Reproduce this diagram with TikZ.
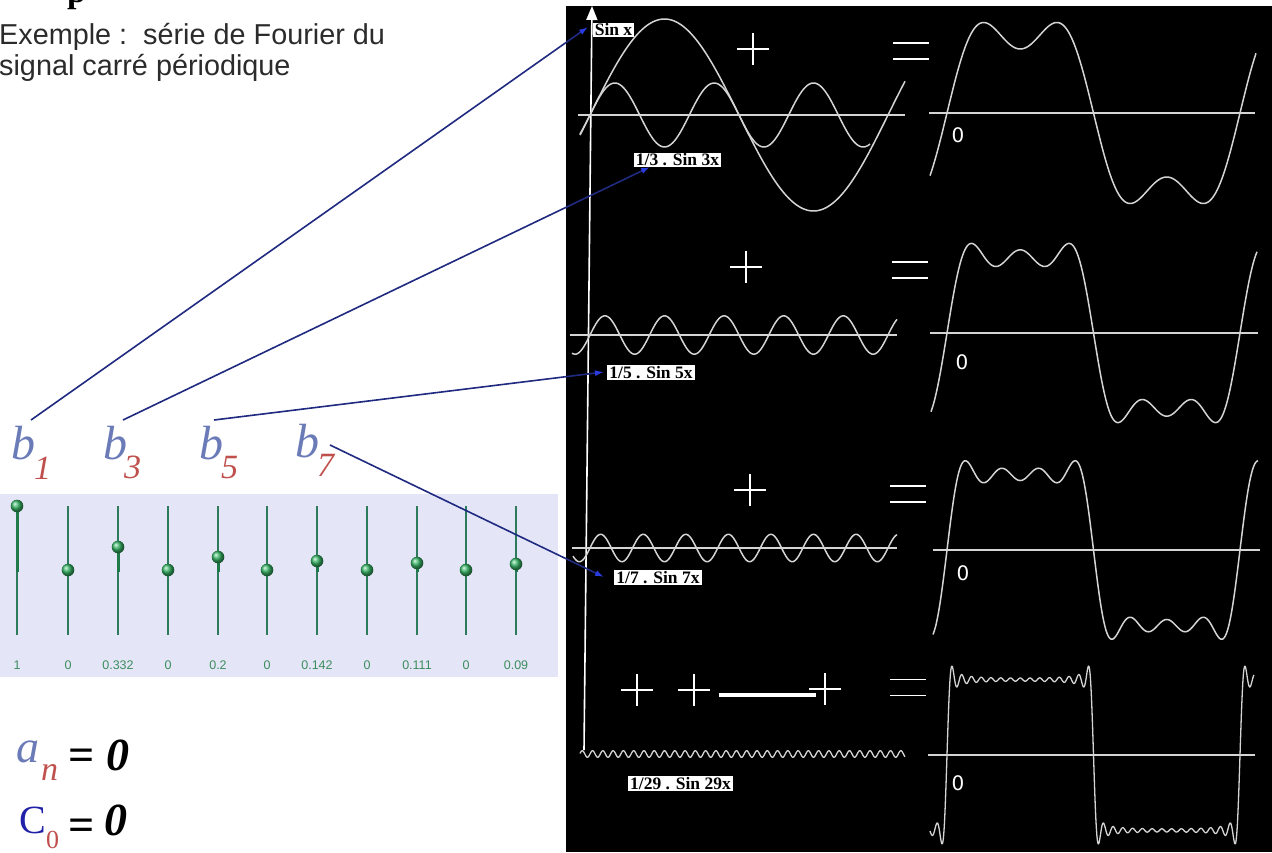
\documentclass[tikz,border=0pt]{standalone}
\usepackage{fontspec}
\setmainfont{Liberation Serif}
\setsansfont{Liberation Sans}
\newfontfamily\dejavu{DejaVu Sans}
\usetikzlibrary{arrows.meta,calc}
\definecolor{bblue}{HTML}{6A7BB8}
\definecolor{bred}{HTML}{C0504D}
\definecolor{cblue}{HTML}{2020A8}
\definecolor{navy}{HTML}{1F2A80}
\definecolor{tipblue}{HTML}{2A3CE0}
\definecolor{panel}{HTML}{E4E6F7}
\definecolor{sldr}{HTML}{2E7A5C}
\definecolor{sldrbar}{HTML}{1E7A48}
\definecolor{knob}{HTML}{36B565}
\definecolor{vallbl}{HTML}{3C8C5C}
\definecolor{wave}{HTML}{D4D4D4}
\definecolor{titlegray}{HTML}{2B2B2B}
\begin{document}
\begin{tikzpicture}[x=1pt,y=-1pt,
  wv/.style={draw=wave, line width=1.5pt, line join=round},
  zl/.style={draw=wave, line width=1.4pt},
  signline/.style={draw=white, line width=1.6pt},
  lbl/.style={fill=white, text=black, font=\bfseries\fontsize{17.5}{19}\selectfont, inner xsep=2pt, inner ysep=1pt},
  conn/.style={draw=navy, line width=1.6pt, -{Latex[length=9pt,width=6pt,color=tipblue]}},
  zerolbl/.style={font=\dejavu\fontsize{20}{22}\selectfont, text=white, inner sep=0pt},
  bletter/.style={anchor=base west, inner sep=0pt, font=\itshape\fontsize{48}{50}\selectfont, text=bblue},
  bsub/.style={anchor=base west, inner sep=0pt, font=\itshape\fontsize{34}{36}\selectfont, text=bred},
  vallabel/.style={font=\sffamily\fontsize{12.5}{13}\selectfont, text=vallbl, inner sep=0pt},
  plussign/.pic={\draw[signline] (-16,0)--(16,0) (0,-16)--(0,16);},
  eqsign/.pic={\draw[signline] (-18,-8)--(18,-8) (-18,8)--(18,8);},
  declare function={
    sa(\t)=sin(\t)+sin(3*\t)/3;
    sb(\t)=sa(\t)+sin(5*\t)/5;
    sc(\t)=sb(\t)+sin(7*\t)/7;
    sd(\t)=sc(\t)+sin(9*\t)/9+sin(11*\t)/11+sin(13*\t)/13+sin(15*\t)/15+sin(17*\t)/17+sin(19*\t)/19+sin(21*\t)/21+sin(23*\t)/23+sin(25*\t)/25+sin(27*\t)/27+sin(29*\t)/29;
    tl(\x)=(\x-590)/149*180;
    tr(\x)=(\x-947)/146.5*180;
  }]
\useasboundingbox (0,0) rectangle (1272,852);
\clip (0,0) rectangle (1272,852);
\fill[white] (0,0) rectangle (1272,852);

% ---------- left part ----------
\node[anchor=base west, inner sep=0pt, font=\bfseries\fontsize{34}{40}\selectfont] (ptop) at (67,2) {p};
\node[anchor=base west, inner sep=0pt, font=\sffamily\fontsize{28.8}{32}\selectfont, text=titlegray] (title1) at (-1,44) {Exemple :~~série de Fourier du};
\node[anchor=base west, inner sep=0pt, font=\sffamily\fontsize{28.8}{32}\selectfont, text=titlegray] (title2) at (-1,75) {signal carré périodique};

% slider panel
\fill[panel] (0,494) rectangle (558,677);
\foreach \sx/\val/\ky [count=\i] in {17/1/506, 68/0/570, 118/0.332/547, 168/0/570, 218/0.2/557, 267/0/570, 317/0.142/561, 367/0/570, 417/0.111/563, 466/0/570, 516/0.09/564}{
  \draw[sldr, line width=1.4pt] (\sx,506) -- (\sx,635);
  \ifdim \ky pt<569pt
    \draw[sldrbar, line width=3pt] (\sx,\ky) -- (\sx,572);
  \fi
  \shade[ball color=knob] (\sx,\ky) circle (6.3);
  \node[vallabel] (val\i) at (\sx,665) {\val};
}

% b coefficients
\node[bletter] (b1) at (11,459) {b};
\node[bsub] (s1) at (34,479) {1};
\node[bletter] (b3) at (103,459) {b};
\node[bsub] (s3) at (124,478) {3};
\node[bletter] (b5) at (199,459) {b};
\node[bsub] (s5) at (221,478) {5};
\node[bletter] (b7) at (295,457) {b};
\node[bsub] (s7) at (317,476) {7};

% a_n = 0 , C_0 = 0
\node[anchor=base west, inner sep=0pt, font=\itshape\fontsize{46}{48}\selectfont, text=bblue] (an) at (16,762) {a};
\node[anchor=base west, inner sep=0pt, font=\itshape\fontsize{34}{36}\selectfont, text=bred] (ansub) at (41,780) {n};
\node[inner sep=0pt, font=\bfseries\fontsize{46}{48}\selectfont] (aneq) at (82,760) {=};
\node[anchor=base west, inner sep=0pt, font=\bfseries\itshape\fontsize{46}{48}\selectfont] (anz) at (106,770) {0};
\node[anchor=base west, inner sep=0pt, font=\fontsize{40}{42}\selectfont, text=cblue] (c0) at (19,833) {C};
\node[anchor=base west, inner sep=0pt, font=\fontsize{26}{28}\selectfont, text=bred] (c0sub) at (46,848) {0};
\node[inner sep=0pt, font=\bfseries\fontsize{46}{48}\selectfont] (c0eq) at (82,830) {=};
\node[anchor=base west, inner sep=0pt, font=\bfseries\itshape\fontsize{46}{48}\selectfont] (c0z) at (104,835) {0};

% ---------- right black part ----------
\fill[black] (566,6) rectangle (1272,852);

% axis
\draw[white, line width=1.6pt, -{Triangle[length=14pt,width=11pt]}] (584,750) -- (592,6);

% row 1 left
\draw[zl] (578,115) -- (905,115);
\draw[wv] plot[domain=580:905, samples=160, smooth, variable=\x] (\x, {115-96*sin(tl(\x))});
\draw[wv] plot[domain=580:870, samples=160, smooth, variable=\x] (\x, {115-32*sin(3*tl(\x))});
% row 2 left
\draw[zl] (570,335) -- (897,335);
\draw[wv] plot[domain=572:897, samples=220, smooth, variable=\x] (\x, {335-19.2*sin(5*tl(\x))});
% row 3 left
\draw[zl] (572,548) -- (897,548);
\draw[wv] plot[domain=573:897, samples=260, smooth, variable=\x] (\x, {548-13.7*sin(7*tl(\x))});
% row 4 left
\draw[wv, line width=1.3pt] plot[domain=580:905, samples=500, variable=\x] (\x, {754-3.3*sin(29*tl(\x))});

% plus and equals signs
\pic (plusA) at (753,49) {plussign};
\pic (plusB) at (746,267) {plussign};
\pic (plusC) at (750,490) {plussign};
\pic (plusD) at (637,690) {plussign};
\pic (plusE) at (694,690) {plussign};
\pic (plusF) at (825,689) {plussign};
\draw[white, line width=4pt] (719,695) -- (816,695);
\pic (eqA) at (911,51) {eqsign};
\pic (eqB) at (910,270) {eqsign};
\pic (eqC) at (908,494) {eqsign};
\pic (eqD) at (908,687.5) {eqsign};

% right partial sums
\draw[zl] (929,113) -- (1255,113);
\draw[wv] plot[domain=930:1256, samples=220, smooth, variable=\x] (\x, {113-96*sa(tr(\x))});
\draw[zl] (930,333) -- (1258,333);
\draw[wv] plot[domain=931:1257, samples=260, smooth, variable=\x] (\x, {333-96*sb(tr(\x))});
\draw[zl] (933,550) -- (1260,550);
\draw[wv] plot[domain=933:1258, samples=300, smooth, variable=\x] (\x, {550-96*sc(tr(\x))});
\draw[zl] (928,755) -- (1255,755);
\draw[wv, line width=1.3pt] plot[domain=930:1254, samples=900, variable=\x] (\x, {755-96*sd(tr(\x))});

\node[zerolbl] (z1) at (958,135) {0};
\node[zerolbl] (z2) at (962,362) {0};
\node[zerolbl] (z3) at (963,573) {0};
\node[zerolbl] (z4) at (958,783) {0};

% labels
\node[lbl] (l1) at (613.5,30) {Sin x};
\node[lbl] (l3) at (677.5,160) {1/3 . Sin 3x};
\node[lbl] (l5) at (651,372.5) {1/5 . Sin 5x};
\node[lbl] (l7) at (658,577.5) {1/7 . Sin 7x};
\node[lbl] (l29) at (680.5,783.5) {1/29 . Sin 29x};

% connectors
\coordinate (p1) at (31,420);
\coordinate (p3) at (123,420);
\coordinate (p5) at (214,420);
\coordinate (p7) at (330,445);
\coordinate (q1) at (588,27);
\coordinate (q3) at (650,167);
\coordinate (q5) at (604,372);
\coordinate (q7) at (604,577);
\draw[conn] (p1) -- (q1);
\draw[conn] (p3) -- (q3);
\draw[conn] (p5) -- (q5);
\draw[conn] (p7) -- (q7);
\end{tikzpicture}
\end{document}
